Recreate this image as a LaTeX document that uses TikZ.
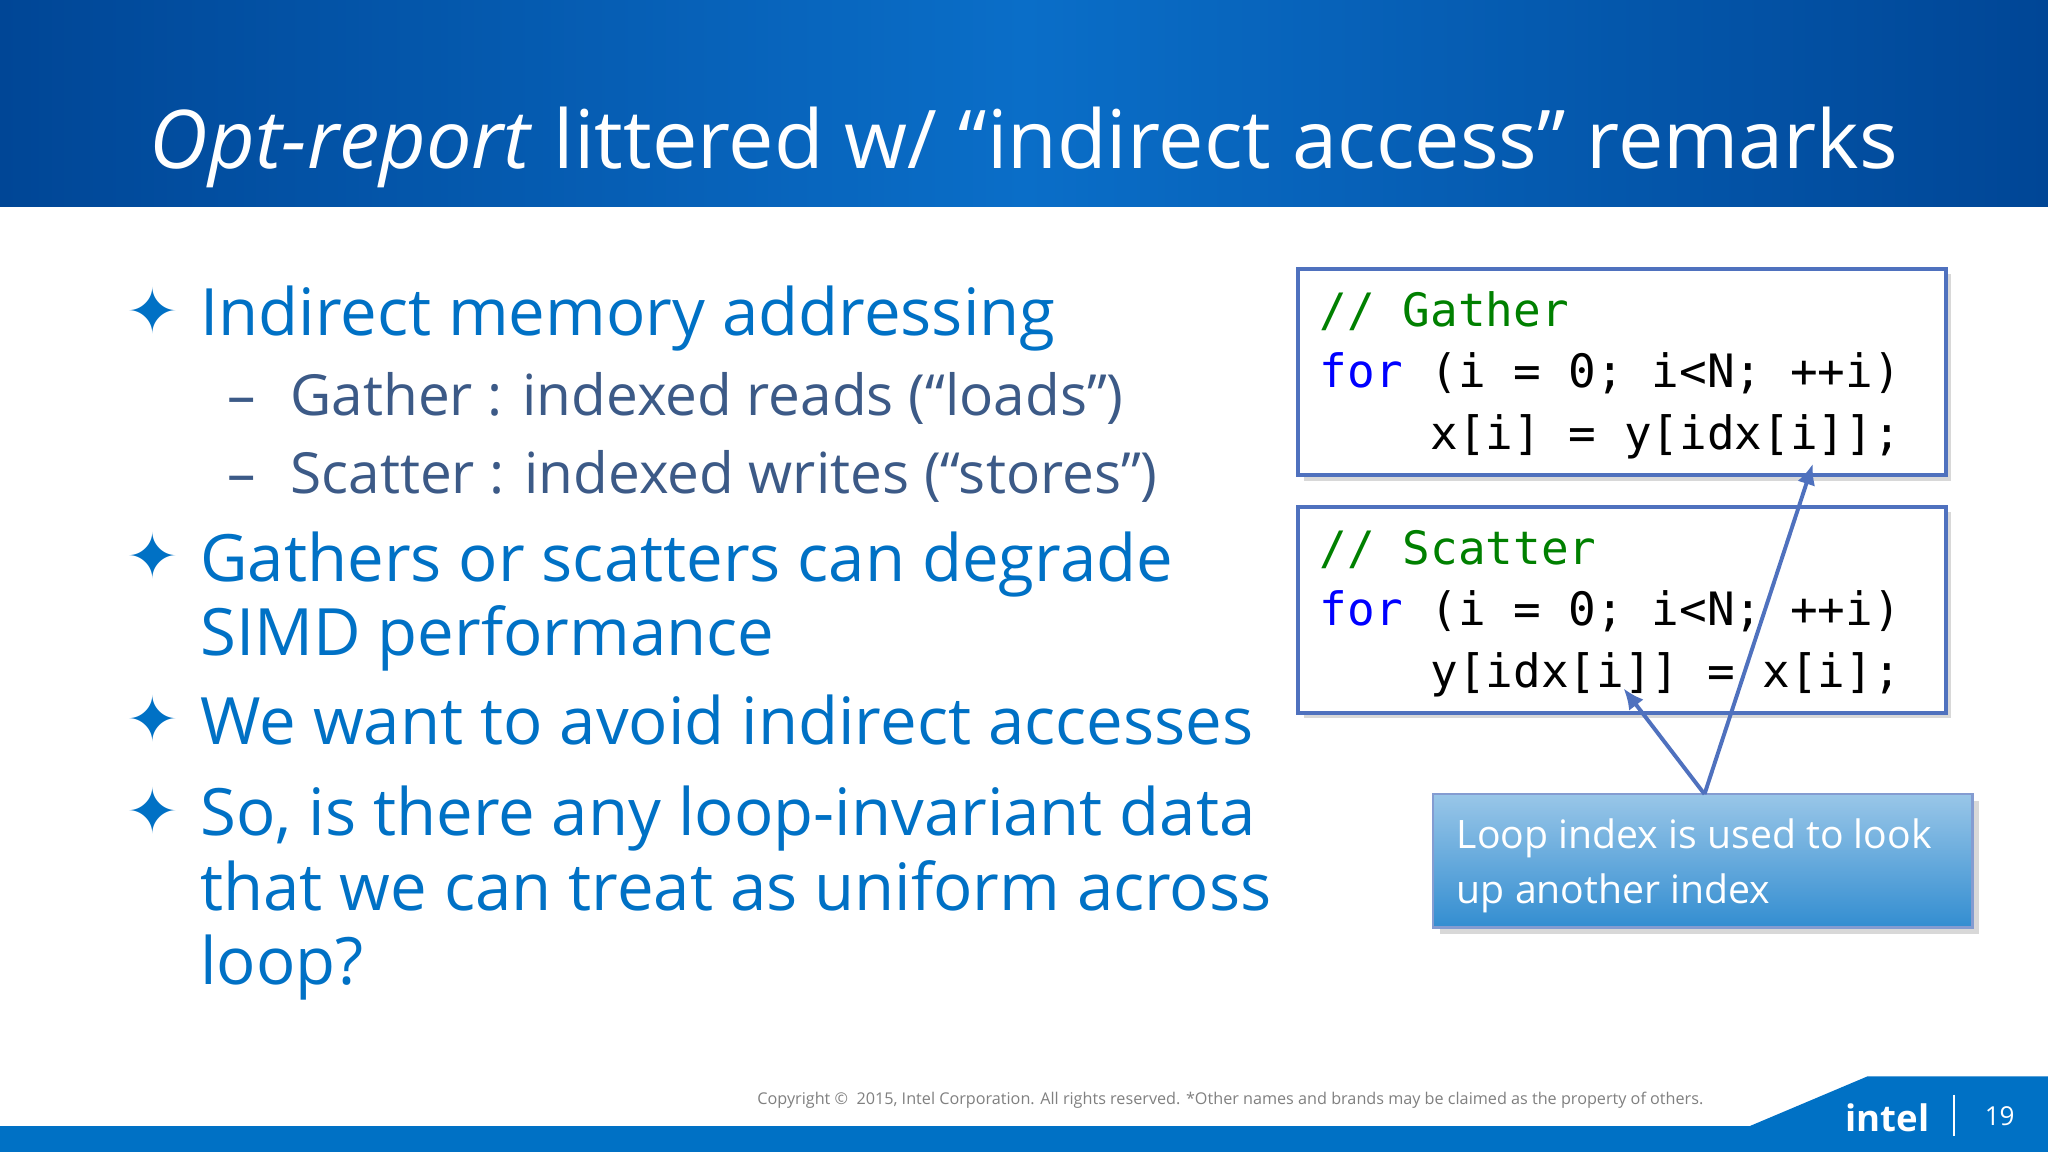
\documentclass[tikz,border=0pt]{standalone}
\usepackage{fontspec}
\setmainfont{Open Sans}
\newfontfamily\codefont{DejaVu Sans Mono}
\newfontfamily\symfont{DejaVu Sans}
\usetikzlibrary{shadows,arrows.meta}
\definecolor{ttl}{RGB}{0,70,150}
\definecolor{ttl2}{RGB}{10,110,200}
\definecolor{mainb}{RGB}{0,113,197}
\definecolor{subb}{RGB}{60,90,135}
\definecolor{boxb}{RGB}{79,113,190}
\definecolor{cgreen}{RGB}{0,128,0}
\definecolor{cblue}{RGB}{0,0,255}
\tikzset{
  bul/.style={anchor=base west,text=mainb,font=\fontsize{25}{29}\selectfont,inner sep=0},
  subt/.style={anchor=base west,text=subb,font=\fontsize{21.7}{25}\selectfont,inner sep=0},
  star/.style={anchor=base,text=mainb,font=\symfont\fontsize{24}{26}\selectfont,inner sep=0},
  code/.style={anchor=base west,font=\codefont\fontsize{17.6}{20}\selectfont,inner sep=0},
  codebox/.style={draw=boxb,line width=1.5pt,fill=white,drop shadow={opacity=0.3,shadow xshift=2pt,shadow yshift=-2pt}},
  arr/.style={draw=boxb,line width=1.5pt,-{Latex[length=8pt,width=7pt]}}
}
\begin{document}
\begin{tikzpicture}[x=0.5pt,y=-0.5pt]
\useasboundingbox (0,0) rectangle (1568,882);
\fill[white] (0,0) rectangle (1568,882);
\shade[left color=ttl,right color=ttl,middle color=ttl2] (0,0) rectangle (1568,158);
\node[anchor=base,text=white,font=\fontsize{31}{35}\selectfont,inner sep=0] (title) at (784,129) {\textit{Opt-report} littered w/ “indirect access” remarks};
% bottom
\fill[mainb] (0,862) rectangle (1568,882);
\fill[mainb] (1340,862) -- (1430,824) -- (1568,824) -- (1568,862) -- cycle;
\node[anchor=base,text=white,font=\bfseries\fontsize{14}{16}\selectfont,inner sep=0] (logo) at (1445,866) {intel};
\draw[white,line width=0.5pt] (1496,838) -- (1496,870);
\node[anchor=base,text=white,font=\fontsize{10}{12}\selectfont,inner sep=0] (pg) at (1531,862) {19};
\node[anchor=base,text=gray,font=\fontsize{6.2}{7}\selectfont,inner sep=0] (copy) at (942,846) {Copyright © \ 2015, Intel Corporation. All rights reserved. *Other names and brands may be claimed as the property of others.};
% bullets
\foreach \y in {255,443,568,638} \node[star] at (117,\y) {✦};
\node[bul] (b1) at (153,257) {Indirect memory addressing};
\node[subt] (s1a) at (222,318) {Gather : indexed reads (“loads”)};
\node[subt] (s1b) at (222,378) {Scatter : indexed writes (“stores”)};
\node[subt,anchor=base] (d1) at (185,318) {–};
\node[subt,anchor=base] (d2) at (185,378) {–};
\node[bul] (b2) at (153,445) {Gathers or scatters can degrade};
\node[bul] (b2b) at (153,502) {SIMD performance};
\node[bul] (b3) at (153,570) {We want to avoid indirect accesses};
\node[bul] (b4) at (153,640) {So, is there any loop-invariant data};
\node[bul] (b4b) at (153,697) {that we can treat as uniform across};
\node[bul] (b4c) at (153,754) {loop?};
% code boxes
\path[codebox] (994,206) rectangle (1490,364);
\path[codebox] (994,388) rectangle (1490,546);
\node[code,text=cgreen] (g1) at (1010,250) {// Gather};
\node[code] (g2) at (1010,297) {\textcolor{cblue}{for} (i = 0; i<N; ++i)};
\node[code] (g3) at (1010,344) {\ \ \ \ x[i] = y[idx[i]];};
\node[code,text=cgreen] (c1) at (1010,432) {// Scatter};
\node[code] (c2) at (1010,479) {\textcolor{cblue}{for} (i = 0; i<N; ++i)};
\node[code] (c3) at (1010,526) {\ \ \ \ y[idx[i]] = x[i];};
% callout
\shade[top color=mainb!40,bottom color=mainb!80!white,draw=boxb!70,line width=1pt,drop shadow={opacity=0.3}] (1097,608) rectangle (1510,710);
\coordinate (cs) at (1305,608);
\node[anchor=base west,text=white,font=\fontsize{15}{18}\selectfont,inner sep=0] (ct1) at (1115,650) {Loop index is used to look};
\node[anchor=base west,text=white,font=\fontsize{15}{18}\selectfont,inner sep=0] (ct2) at (1115,692) {up another index};
\coordinate (t1) at (1388,355);
\coordinate (t2) at (1243,527);
\draw[arr] (cs) -- (t1);
\draw[arr] (cs) -- (t2);
\end{tikzpicture}
\end{document}
